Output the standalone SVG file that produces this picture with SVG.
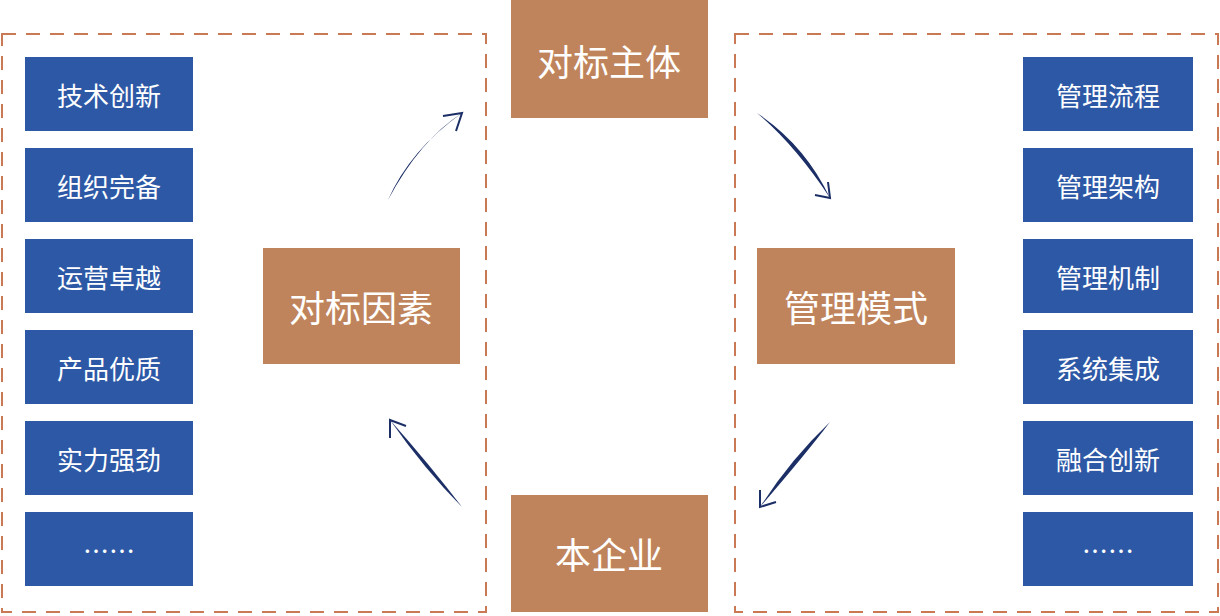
<svg xmlns="http://www.w3.org/2000/svg" width="1220" height="616" viewBox="0 0 1220 616">
<style>
.dash{fill:none;stroke:#C97A55;stroke-width:2;stroke-dasharray:14,10}
.b{fill:#2D58A6}
.br{fill:#C0845C}
.bt{font-family:"Noto Sans CJK SC",sans-serif;font-size:26px;fill:#fff;text-anchor:middle;dominant-baseline:central}
.rt{font-family:"Noto Sans CJK SC",sans-serif;font-size:36px;fill:#fff;text-anchor:middle;dominant-baseline:central}
.ar{fill:#1B2E66}
.ah{fill:none;stroke:#1B2E66;stroke-width:2}
</style>
<rect fill="#fff" width="1220" height="616"/>
<rect class="dash" x="2" y="34" width="484" height="578"/>
<rect class="dash" x="735" y="34" width="483" height="578"/>
<g id="left">
<g id="l1"><rect class="b" x="25" y="57" width="168" height="74"/><text class="bt" x="109" y="94">技术创新</text></g>
<g id="l2"><rect class="b" x="25" y="148" width="168" height="74"/><text class="bt" x="109" y="185">组织完备</text></g>
<g id="l3"><rect class="b" x="25" y="239" width="168" height="74"/><text class="bt" x="109" y="276">运营卓越</text></g>
<g id="l4"><rect class="b" x="25" y="330" width="168" height="74"/><text class="bt" x="109" y="367">产品优质</text></g>
<g id="l5"><rect class="b" x="25" y="421" width="168" height="74"/><text class="bt" x="109" y="458">实力强劲</text></g>
<g id="l6"><rect class="b" x="25" y="512" width="168" height="74"/><text class="bt" x="109" y="549">……</text></g>
</g>
<g id="right">
<g id="r1"><rect class="b" x="1023" y="57" width="170" height="74"/><text class="bt" x="1108" y="94">管理流程</text></g>
<g id="r2"><rect class="b" x="1023" y="148" width="170" height="74"/><text class="bt" x="1108" y="185">管理架构</text></g>
<g id="r3"><rect class="b" x="1023" y="239" width="170" height="74"/><text class="bt" x="1108" y="276">管理机制</text></g>
<g id="r4"><rect class="b" x="1023" y="330" width="170" height="74"/><text class="bt" x="1108" y="367">系统集成</text></g>
<g id="r5"><rect class="b" x="1023" y="421" width="170" height="74"/><text class="bt" x="1108" y="458">融合创新</text></g>
<g id="r6"><rect class="b" x="1023" y="512" width="170" height="74"/><text class="bt" x="1108" y="549">……</text></g>
</g>
<g id="top"><rect class="br" x="511" y="0" width="197" height="118"/><text class="rt" x="609" y="60">对标主体</text></g>
<g id="bottom"><rect class="br" x="511" y="495" width="197" height="117"/><text class="rt" x="609" y="553">本企业</text></g>
<g id="factors"><rect class="br" x="263" y="248" width="197" height="116"/><text class="rt" x="361" y="306">对标因素</text></g>
<g id="mode"><rect class="br" x="757" y="248" width="198" height="116"/><text class="rt" x="856" y="306">管理模式</text></g>
<g id="connectors">
<path class="ar" d="M388,200 Q410,150 462,113 Q420,140 388,200Z"/>
<path class="ah" d="M443,116 L462,113 L456,131"/>
<path class="ar" d="M757,113 Q805,145 830,198 Q795,145 757,113Z"/>
<path class="ah" d="M815,195 L830,198 L828,182" stroke="#4A78C0"/>
<path class="ar" d="M830,422 Q790,460 760,507 Q805,455 830,422Z"/>
<path class="ah" d="M760,490 L760,507 L776,502" stroke="#4A78C0"/>
<path class="ar" d="M462,507 Q430,465 390,420 Q425,470 462,507Z"/>
<path class="ah" d="M390,438 L390,420 L406,426"/>
</g>
</svg>
